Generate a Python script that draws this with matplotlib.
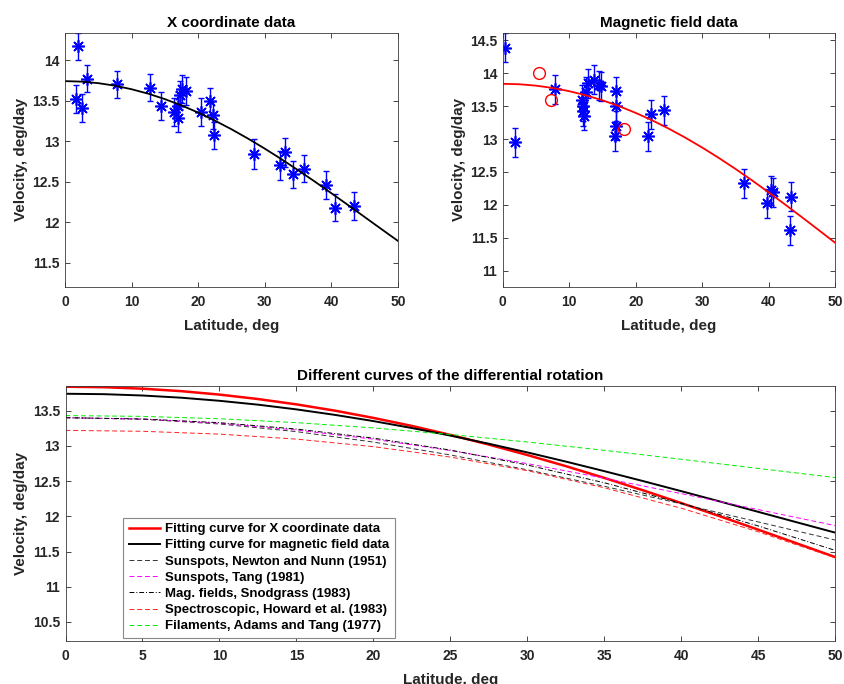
import numpy as np
import matplotlib
matplotlib.use('Agg')
import matplotlib.pyplot as plt

plt.rcParams['font.family'] = ['Liberation Sans', 'DejaVu Sans']
plt.rcParams['font.weight'] = 'bold'
plt.rcParams['axes.labelweight'] = 'bold'
plt.rcParams['axes.titleweight'] = 'bold'

# X coordinate data (left panel)
lat_x = [1.6, 2.0, 2.6, 3.3, 7.8, 12.8, 14.4, 16.3, 16.9, 17.0, 17.3, 17.5, 18.1,
         20.4, 21.8, 22.2, 22.3, 28.4, 32.3, 33.1, 34.2, 35.9, 39.2, 40.6, 43.4]
vel_x = [13.52, 14.17, 13.41, 13.77, 13.70, 13.66, 13.43, 13.36, 13.28, 13.43, 13.57, 13.64, 13.62,
         13.36, 13.49, 13.32, 13.07, 12.84, 12.70, 12.86, 12.59, 12.66, 12.46, 12.18, 12.20]
err_x = [0.17, 0.17, 0.17, 0.17, 0.17, 0.17, 0.17, 0.17, 0.17, 0.17, 0.17, 0.17, 0.17,
         0.17, 0.17, 0.17, 0.17, 0.18, 0.18, 0.18, 0.17, 0.17, 0.17, 0.17, 0.17]

# Magnetic field data (right panel)
lat_m = [0.35, 1.8, 7.8, 11.9, 12.0, 12.1, 12.2, 12.5, 12.8, 13.7, 14.5, 14.8, 17.0,
         17.1, 17.0, 16.9, 21.9, 22.3, 24.3, 36.3, 39.8, 40.3, 40.7, 43.3, 43.2]
vel_m = [14.39, 12.95, 13.76, 13.60, 13.50, 13.42, 13.35, 13.72, 13.85, 13.90, 13.82, 13.80, 13.73,
         13.50, 13.20, 13.04, 13.04, 13.38, 13.44, 12.33, 12.02, 12.22, 12.19, 12.12, 11.61]
err_m = [0.22] * len(lat_m)

# excluded points (red circles)
lat_out = [5.4, 7.3, 18.3]
vel_out = [14.00, 13.59, 13.15]

# fitted curves, read every 2.5 deg
lat_fit = [0, 2.5, 5, 7.5, 10, 12.5, 15, 17.5, 20, 22.5, 25,
           27.5, 30, 32.5, 35, 37.5, 40, 42.5, 45, 47.5, 50]
fit_x = [13.740, 13.734, 13.715, 13.684, 13.640, 13.585, 13.518, 13.440, 13.352, 13.253, 13.146,
         13.030, 12.907, 12.777, 12.641, 12.501, 12.357, 12.211, 12.063, 11.915, 11.768]
fit_m = [13.840, 13.833, 13.812, 13.777, 13.728, 13.665, 13.589, 13.500, 13.397, 13.283, 13.156,
         13.018, 12.870, 12.712, 12.545, 12.370, 12.188, 12.001, 11.810, 11.616, 11.421]

# published curves, read every 5 deg
lat_c = [0, 5, 10, 15, 20, 25, 30, 35, 40, 45, 50]
newton = [13.400, 13.378, 13.311, 13.202, 13.054, 12.871, 12.660, 12.426, 12.177, 11.920, 11.663]
tang = [13.400, 13.380, 13.321, 13.225, 13.095, 12.934, 12.748, 12.541, 12.322, 12.095, 11.868]
snodgrass = [13.400, 13.382, 13.329, 13.239, 13.110, 12.940, 12.728, 12.476, 12.185, 11.863, 11.516]
howard = [13.220, 13.207, 13.167, 13.096, 12.989, 12.841, 12.648, 12.405, 12.115, 11.780, 11.410]
adams = [13.430, 13.419, 13.385, 13.330, 13.255, 13.162, 13.055, 12.937, 12.810, 12.680, 12.550]

W, H = 844, 684
fig = plt.figure(figsize=(W / 100, H / 100), dpi=100)


def make_ax(l, t, r, b):
    ax = fig.add_axes([l / W, 1 - b / H, (r - l) / W, (b - t) / H])
    ax.tick_params(direction='in', top=True, right=True, length=3.5, width=0.6,
                   labelsize=10, colors='#262626', pad=4)
    ax.tick_params(axis='x', pad=6)
    for s in ax.spines.values():
        s.set_color('#3a3a3a')
        s.set_linewidth(0.6)
    ax.set_xlim(0, 50)
    ax.yaxis.set_label_coords(-37 / (r - l), 0.5)
    ax.xaxis.set_label_coords(0.5, -32 / (b - t))
    return ax


star = (8, 2, 0)
blue = (0, 0, 1)

ax1 = make_ax(65, 32.5, 398, 287)
ax1.errorbar(lat_x, vel_x, yerr=err_x, fmt='none', ecolor=blue, elinewidth=1.0, capsize=2.5, capthick=1.0)
ax1.plot(lat_x, vel_x, linestyle='none', marker=star, markersize=9, color=blue, markeredgewidth=1.2)
ax1.plot(lat_fit, fit_x, color='k', lw=1.3)
ax1.set_ylim(11.2, 14.34)
ax1.set_xticks(range(0, 51, 10))
ax1.set_yticks([11.5, 12, 12.5, 13, 13.5, 14])
ax1.set_yticklabels(['11.5', '12', '12.5', '13', '13.5', '14'])
ax1.set_title('X coordinate data', fontsize=11, pad=4)
ax1.set_xlabel('Latitude, deg', fontsize=11, color='#262626')
ax1.set_ylabel('Velocity, deg/day', fontsize=11, color='#262626')

ax2 = make_ax(502.7, 32.5, 835.3, 287)
ax2.errorbar(lat_m, vel_m, yerr=err_m, fmt='none', ecolor=blue, elinewidth=1.0, capsize=2.5, capthick=1.0)
ax2.plot(lat_m, vel_m, linestyle='none', marker=star, markersize=9, color=blue, markeredgewidth=1.2)
ax2.plot(lat_out, vel_out, linestyle='none', marker='o', markersize=8.5, markerfacecolor='none',
         markeredgecolor='r', markeredgewidth=1.0)
ax2.plot(lat_fit, fit_m, color='r', lw=1.3)
ax2.set_ylim(10.75, 14.62)
ax2.set_xticks(range(0, 51, 10))
ax2.set_yticks([11, 11.5, 12, 12.5, 13, 13.5, 14, 14.5])
ax2.set_yticklabels(['11', '11.5', '12', '12.5', '13', '13.5', '14', '14.5'])
ax2.set_title('Magnetic field data', fontsize=11, pad=4)
ax2.set_xlabel('Latitude, deg', fontsize=11, color='#262626')
ax2.set_ylabel('Velocity, deg/day', fontsize=11, color='#262626')

ax3 = make_ax(65.5, 386, 835.3, 641)
ax3.plot(lat_fit, fit_m, color='r', lw=1.8, label='Fitting curve for X coordinate data')
ax3.plot(lat_fit, fit_x, color='k', lw=1.4, label='Fitting curve for magnetic field data')
ax3.plot(lat_c, newton, color='#333333', lw=0.7, ls=(0, (5, 3)), label='Sunspots, Newton and Nunn (1951)')
ax3.plot(lat_c, tang, color='#ff00ff', lw=0.7, ls=(0, (5, 3)), label='Sunspots, Tang (1981)')
ax3.plot(lat_c, snodgrass, color='k', lw=0.7, ls=(0, (5, 2, 1, 2)), label='Mag. fields, Snodgrass (1983)')
ax3.plot(lat_c, howard, color='#ff2020', lw=0.7, ls=(0, (5, 3)), label='Spectroscopic, Howard et al. (1983)')
ax3.plot(lat_c, adams, color='#00ee00', lw=0.7, ls=(0, (5, 3)), label='Filaments, Adams and Tang (1977)')
ax3.set_ylim(10.23, 13.85)
ax3.set_xticks(range(0, 51, 5))
ax3.set_yticks([10.5, 11, 11.5, 12, 12.5, 13, 13.5])
ax3.set_yticklabels(['10.5', '11', '11.5', '12', '12.5', '13', '13.5'])
ax3.set_title('Different curves of the differential rotation', fontsize=11, pad=4)
ax3.set_xlabel('Latitude, deg', fontsize=11, color='#262626')
ax3.set_ylabel('Velocity, deg/day', fontsize=11, color='#262626')
leg = ax3.legend(loc='lower left', bbox_to_anchor=(0.075, 0.013), borderaxespad=0,
                 prop={'size': 9.5, 'weight': 'bold'}, handlelength=2.4, labelspacing=0.3,
                 handletextpad=0.4, borderpad=0.4, fancybox=False, framealpha=1)
leg.get_frame().set_edgecolor('#888888')
leg.get_frame().set_linewidth(0.8)

fig.savefig('out.png', dpi=100)
